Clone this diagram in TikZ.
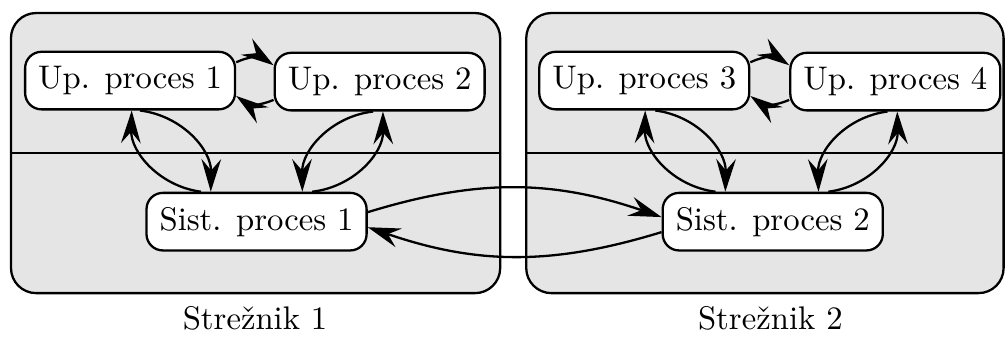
\documentclass[tikz,border=0pt]{standalone}
\usetikzlibrary{arrows.meta}

\tikzset{
  proc/.style={draw, fill=white, rounded corners=5pt, line width=0.7pt,
    minimum height=17.6pt, inner xsep=4pt},
  link/.style={line width=0.7pt, -{Stealth[length=10pt,width=6pt,inset=3.5pt]}}
}

\begin{document}
\begin{tikzpicture}
\useasboundingbox (0,0) rectangle (10.80,3.634);

% the two servers
\filldraw[fill=gray!20, line width=0.7pt, rounded corners=0.27cm] (0.118,0.484) rectangle (5.375,3.494);
\filldraw[fill=gray!20, line width=0.7pt, rounded corners=0.27cm] (5.655,0.484) rectangle (10.785,3.494);
\draw[line width=0.7pt] (0.118,1.989) -- (5.375,1.989);
\draw[line width=0.7pt] (5.655,1.989) -- (10.785,1.989);

\node[proc] (up1) at (1.398,2.768) {Up. proces 1};
\node[proc] (up2) at (4.080,2.757) {Up. proces 2};
\node[proc] (sp1) at (2.757,1.252) {Sist. proces 1};
\node[proc] (up3) at (6.923,2.768) {Up. proces 3};
\node[proc] (up4) at (9.621,2.757) {Up. proces 4};
\node[proc] (sp2) at (8.304,1.252) {Sist. proces 2};

\node (s1) at (2.741,0.215) {Strežnik 1};
\node (s2) at (8.278,0.215) {Strežnik 2};

% server 1
\draw[link] ([yshift=5.6pt]up1.east) to[bend left=30] ([yshift=5pt]up2.west);
\draw[link] ([yshift=-5.6pt]up2.west) to[bend left=30] ([yshift=-4.7pt]up1.east);
\draw[link] ([xshift=3pt]up1.south) to[bend left=42] ([xshift=-14pt]sp1.north);
\draw[link] ([xshift=-17pt]sp1.north) to[bend left=42] ([xshift=0.5pt]up1.south);
\draw[link] ([xshift=-2pt]up2.south) to[bend right=42] ([xshift=14pt]sp1.north);
\draw[link] ([xshift=17pt]sp1.north) to[bend right=42] ([xshift=1pt]up2.south);

% server 2
\draw[link] ([yshift=5.6pt]up3.east) to[bend left=30] ([yshift=5pt]up4.west);
\draw[link] ([yshift=-5.6pt]up4.west) to[bend left=30] ([yshift=-4.7pt]up3.east);
\draw[link] ([xshift=3.4pt]up3.south) to[bend left=42] ([xshift=-14.5pt]sp2.north);
\draw[link] ([xshift=-17.5pt]sp2.north) to[bend left=42] ([xshift=0.3pt]up3.south);
\draw[link] ([xshift=-2.4pt]up4.south) to[bend right=42] ([xshift=14pt]sp2.north);
\draw[link] ([xshift=17pt]sp2.north) to[bend right=42] ([xshift=0.6pt]up4.south);

% between servers
\draw[link] ([yshift=2.9pt]sp1.east) to[bend left=18] ([yshift=1.4pt]sp2.west);
\draw[link] ([yshift=-3.2pt]sp2.west) to[bend left=18] ([yshift=-1.7pt]sp1.east);
\end{tikzpicture}
\end{document}
